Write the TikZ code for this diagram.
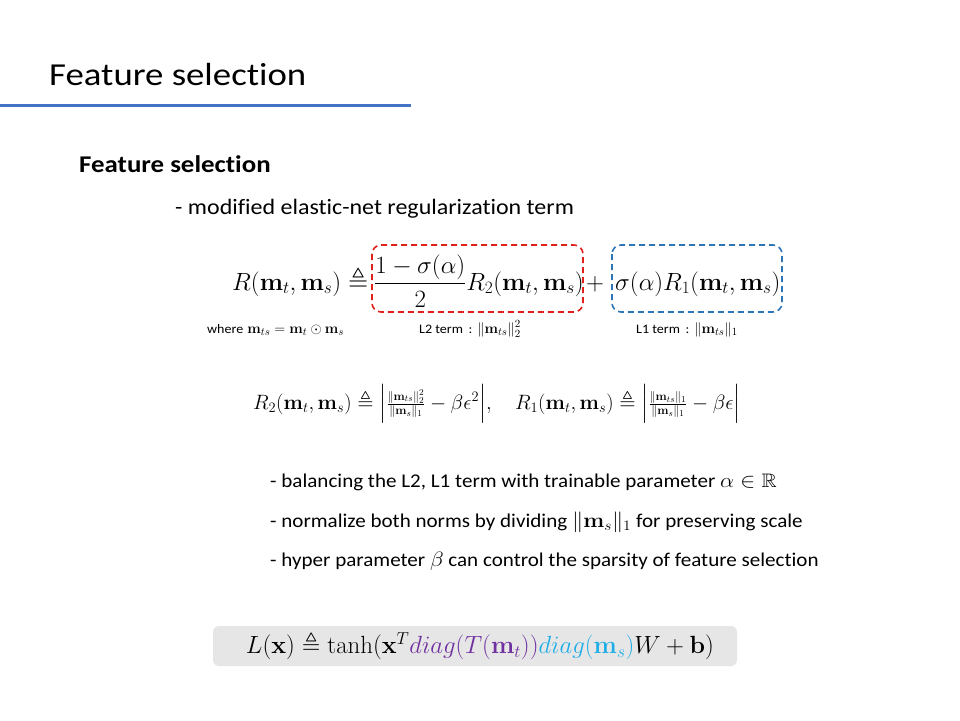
\documentclass[tikz,border=0pt]{standalone}
\usepackage{amsmath,amssymb}
\usepackage[no-math]{fontspec}
\setmainfont{Carlito}[Ligatures=NoCommon]
\definecolor{titleblue}{HTML}{4472C4}
\definecolor{boxred}{HTML}{E0201B}
\definecolor{boxblue}{HTML}{2E75B6}
\definecolor{eqpurple}{HTML}{7030A0}
\definecolor{eqcyan}{HTML}{1FAEE6}
\definecolor{eqgray}{HTML}{E6E6E6}
\tikzset{
  txt/.style={anchor=base west, inner sep=0pt, text=black},
  dashbox/.style={line width=1.6pt, rounded corners=9pt, dash pattern=on 6pt off 4pt},
}
\newcommand{\mb}[1]{\mathbf{#1}}
\newcommand{\wide}[2]{\scalebox{#1}[1]{#2}}
\newcommand{\smallfrac}[2]{\text{\fontsize{18}{20}\selectfont$\frac{#1}{#2}$}}
\begin{document}
\begin{tikzpicture}[x=1pt,y=-1pt]
\useasboundingbox (0,0) rectangle (960,720);
\fill[white] (0,0) rectangle (960,720);
% title
\node[txt] (title) at (49,85) {\wide{1.15}{\fontsize{32}{38}\selectfont Feature selection}};
\draw[titleblue, line width=3pt] (0,105.5) -- (411,105.5);
\node[txt] (sub) at (79,172) {\wide{1.12}{\fontsize{24}{28}\selectfont\bfseries Feature selection}};
\node[txt] (mod) at (175,214) {\wide{1.09}{\fontsize{22}{26}\selectfont - modified elastic-net regularization term}};
% dashed boxes
\draw[dashbox, boxred] (372,245) rectangle (583,312);
\draw[dashbox, boxblue] (612,245) rectangle (782,312);
% main equation
\node[txt] (eqL) at (232,290) {\fontsize{26}{30}\selectfont $R(\mb{m}_t,\mb{m}_s)\triangleq$};
\node[txt] (eqR) at (374,290) {\fontsize{26}{30}\selectfont $\dfrac{1-\sigma(\alpha)}{2}R_2(\mb{m}_t,\mb{m}_s)$};
\node[txt] (plus) at (586,290) {\fontsize{26}{30}\selectfont $+$};
\node[txt] (eqB) at (615,290) {\fontsize{26}{30}\selectfont $\sigma(\alpha)R_1(\mb{m}_t,\mb{m}_s)$};
% annotations
\node[txt] (where) at (207,333) {\wide{1.08}{\fontsize{13}{15}\selectfont where}\hspace{4pt}{\fontsize{15.5}{18}\selectfont $\mb{m}_{ts}=\mb{m}_t\odot\mb{m}_s$}};
\node[txt] (l2) at (419,333) {\wide{1.08}{\fontsize{13}{15}\selectfont L2 term \,:}\hspace{5pt}{\fontsize{15.5}{18}\selectfont $\|\mb{m}_{ts}\|_2^2$}};
\node[txt] (l1) at (636,333) {\wide{1.08}{\fontsize{13}{15}\selectfont L1 term \,:}\hspace{5pt}{\fontsize{15.5}{18}\selectfont $\|\mb{m}_{ts}\|_1$}};
% second equations
\node[txt] (r2) at (253,409) {\fontsize{21}{24}\selectfont $R_2(\mb{m}_t,\mb{m}_s)\triangleq\Bigl|\smallfrac{\|\mb{m}_{ts}\|_2^2}{\|\mb{m}_s\|_1}-\beta\epsilon^2\Bigr|,$};
\node[txt] (r1) at (515,409) {\fontsize{21}{24}\selectfont $R_1(\mb{m}_t,\mb{m}_s)\triangleq\Bigl|\smallfrac{\|\mb{m}_{ts}\|_1}{\|\mb{m}_s\|_1}-\beta\epsilon\Bigr|$};
% bullets
\node[txt] (b1) at (270,487) {\wide{1.08}{\fontsize{19.5}{23}\selectfont - balancing the L2, L1 term with trainable parameter $\alpha\in\mathbb{R}$}};
\node[txt] (b2) at (270,527) {\wide{1.08}{\fontsize{19.5}{23}\selectfont - normalize both norms by dividing $\|\mb{m}_s\|_1$ for preserving scale}};
\node[txt] (b3) at (270,566) {\wide{1.08}{\fontsize{19.5}{23}\selectfont - hyper parameter $\beta$ can control the sparsity of feature selection}};
% bottom equation
\fill[eqgray, rounded corners=6pt] (213,626) rectangle (737,666);
\node[anchor=center, inner sep=0pt] (lx) at (480,646) {\fontsize{24}{28}\selectfont $L(\mb{x})\triangleq\tanh(\mb{x}^T{\color{eqpurple}diag(T(\mb{m}_t))}{\color{eqcyan}diag(\mb{m}_s)}W+\mb{b})$};
\end{tikzpicture}
\end{document}
